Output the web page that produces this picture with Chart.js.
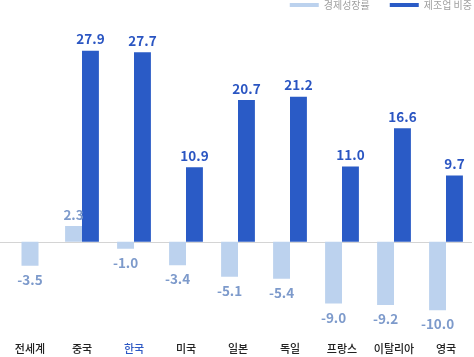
<!DOCTYPE html>
<html><head><meta charset="utf-8">
<script src="https://cdn.jsdelivr.net/npm/chart.js@4"></script>
<style>html,body{margin:0;padding:0;background:#fff;overflow:hidden}#wrap{width:474px;height:357px}</style>
</head><body><div id="wrap"><canvas id="c"></canvas></div>
<script>
const categories = ['전세계','중국','한국','미국','일본','독일','프랑스','이탈리아','영국'];
const growthRate = [-3.5, 2.3, -1.0, -3.4, -5.1, -5.4, -9.0, -9.2, -10.0];
const manufShare = [null, 27.9, 27.7, 10.9, 20.7, 21.2, 11.0, 16.6, 9.7];
const seriesNames = ['경제성장률','제조업 비중'];

const FONT = "'Noto Sans CJK KR','Noto Sans',sans-serif";
const labelColors = ['#7d9acb','#2a55c2'];

const zeroLine = {
  id:'zeroLine',
  beforeDatasetsDraw(chart){
    const ctx = chart.ctx, y = Math.round(chart.scales.y.getPixelForValue(0)) + 0.5;
    ctx.save();
    ctx.strokeStyle = '#d4d4d4';
    ctx.lineWidth = 1;
    ctx.beginPath();
    ctx.moveTo(0, y);
    ctx.lineTo(chart.chartArea.right, y);
    ctx.stroke();
    ctx.restore();
  }
};

const valueLabels = {
  id:'valueLabels',
  afterDatasetsDraw(chart){
    const ctx = chart.ctx;
    ctx.save();
    ctx.font = "bold 13.5px " + FONT;
    ctx.textAlign = 'center';
    ctx.textBaseline = 'middle';
    chart.data.datasets.forEach((ds,di)=>{
      const meta = chart.getDatasetMeta(di);
      meta.data.forEach((bar,i)=>{
        const v = ds.data[i];
        if(v===null||v===undefined) return;
        ctx.fillStyle = labelColors[di];
        const y = v>=0 ? bar.y-11.5 : bar.y+14;
        ctx.fillText(v.toFixed(1), bar.x, y);
      });
    });
    ctx.restore();
  }
};

new Chart(document.getElementById('c'),{
  type:'bar',
  data:{
    labels:categories,
    datasets:[
      {label:seriesNames[0], data:growthRate, backgroundColor:'#bcd2ee', skipNull:true, categoryPercentage:0.65, barPercentage:1.0, maxBarThickness:17},
      {label:seriesNames[1], data:manufShare, backgroundColor:'#2a5bc6', skipNull:true, categoryPercentage:0.65, barPercentage:1.0, maxBarThickness:17}
    ]
  },
  options:{
    responsive:true, maintainAspectRatio:false, animation:false,
    layout:{padding:{left:4,right:2,top:0,bottom:0}},
    plugins:{
      legend:{position:'top', align:'end',
        labels:{boxWidth:29, boxHeight:4, padding:0, color:'#a0a0a0', font:{family:FONT, size:10},
          generateLabels(chart){
            const items = Chart.defaults.plugins.legend.labels.generateLabels(chart);
            items.forEach((it,i)=>{ if(i < items.length-1) it.text = it.text + '\u2003\u2003'; it.lineWidth = 0; });
            return items;
          }}},
      tooltip:{enabled:false}
    },
    scales:{
      x:{grid:{display:false, drawTicks:false}, border:{display:false},
        ticks:{padding:2, font:{family:FONT, size:11, weight:'500'}, color:(c)=> c.index===2 ? '#2d58c4' : '#222'}},
      y:{display:false, min:-14.3, max:32.4}
    }
  },
  plugins:[zeroLine, valueLabels]
});
</script></body></html>
